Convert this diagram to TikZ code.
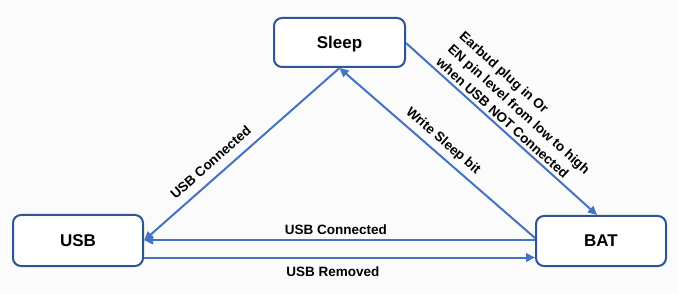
\documentclass[tikz,border=0pt]{standalone}
\usepackage{fontspec}
\setmainfont{Liberation Sans}
\usetikzlibrary{arrows.meta}
\definecolor{boxblue}{RGB}{47,84,150}
\definecolor{lineblue}{RGB}{68,114,196}
\definecolor{bgcol}{RGB}{251,251,251}
\tikzset{
  state/.style={draw=boxblue, line width=2pt, rounded corners=8pt, fill=white,
    font=\bfseries\fontsize{17}{20}\selectfont, inner sep=0pt},
  arr/.style={draw=lineblue, line width=2pt,
    -{Triangle[length=9pt,width=8.5pt]}},
  lbl/.style={font=\bfseries\fontsize{13.5}{17.5}\selectfont, inner sep=0pt, text=black},
}
\begin{document}
\begin{tikzpicture}[x=1pt,y=-1pt]
\fill[bgcol] (0,0) rectangle (678,294);
\useasboundingbox (0,0) rectangle (678,294);
\node[state, minimum width=131pt, minimum height=49pt, text height=15.2pt, text depth=3.6pt] (sleep) at (339.5,42.5) {Sleep};
\node[state, minimum width=130pt, minimum height=51pt] (usb) at (78,240.5) {USB};
\node[state, minimum width=130pt, minimum height=50pt] (bat) at (601,241) {BAT};

% Sleep -> BAT
\draw[arr] ([yshift=-0.5pt]sleep.east) -- ([xshift=-4pt]bat.north)
  node[lbl, sloped, pos=0.139, anchor=south west, outer xsep=0pt, outer ysep=4pt, align=left]
  {Earbud plug in Or\\EN pin level from low to high\\when USB NOT Connected};
% BAT -> Sleep
\draw[arr] ([yshift=3pt]bat.west) -- (sleep.south)
  node[lbl, sloped, pos=0.513, anchor=south, outer xsep=0pt, outer ysep=6.2pt] {Write Sleep  bit};
% Sleep -> USB
\draw[arr] (sleep.south) -- (usb.east)
  node[lbl, sloped, pos=0.61, anchor=south, outer xsep=0pt, outer ysep=9.6pt] {USB Connected};
% BAT -> USB
\draw[arr] ([yshift=1pt]bat.west) -- ([yshift=1pt]bat.west -| usb.east)
  node[lbl, pos=0.509, anchor=south, outer xsep=0pt, outer ysep=5pt] {USB Connected};
% USB -> BAT
\draw[arr] ([yshift=-17pt]usb.east) -- ([yshift=-17pt]usb.east -| bat.west)
  node[lbl, pos=0.483, anchor=north, outer xsep=0pt, outer ysep=9pt] {USB Removed};
\end{tikzpicture}
\end{document}
